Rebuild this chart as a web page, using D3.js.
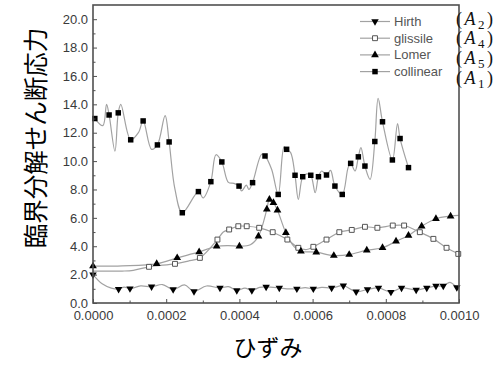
<!DOCTYPE html>
<html>
<head>
<meta charset="utf-8">
<script src="https://cdn.jsdelivr.net/npm/d3@7/dist/d3.min.js"></script>
<style>
  html, body { margin: 0; padding: 0; background: #fff; }
  svg { display: block; }
</style>
</head>
<body>
<svg id="chart" width="496" height="365"></svg>
<script>
// Critical resolved shear stress vs. strain for four junction types.
// Each point: [strain, stress, marker drawn (1) or curve-only point (0)]
const hirth = [
  [0.000000, 2.00, 1], [0.000025, 1.35, 0], [0.000050, 1.05, 0], [0.000070, 0.98, 1],
  [0.000085, 1.12, 0], [0.000101, 1.02, 1], [0.000130, 1.20, 0], [0.000160, 1.15, 1],
  [0.000190, 1.30, 0], [0.000219, 0.95, 1], [0.000250, 1.28, 0], [0.000276, 0.82, 1],
  [0.000310, 1.20, 0], [0.000347, 1.06, 1], [0.000370, 1.15, 0], [0.000393, 0.88, 1],
  [0.000415, 1.05, 0], [0.000434, 0.88, 1], [0.000455, 1.10, 0], [0.000473, 1.13, 1],
  [0.000509, 1.06, 1], [0.000530, 1.00, 0], [0.000557, 1.00, 1], [0.000580, 1.08, 0],
  [0.000602, 1.00, 1], [0.000625, 1.10, 0], [0.000652, 1.06, 1], [0.000684, 1.22, 1],
  [0.000719, 0.80, 1], [0.000750, 0.96, 1], [0.000780, 1.06, 1], [0.000814, 0.77, 1],
  [0.000843, 1.06, 1], [0.000883, 0.92, 1], [0.000912, 1.06, 1], [0.000937, 1.20, 1],
  [0.000957, 1.20, 1], [0.000975, 1.46, 0], [0.000994, 1.10, 1], [0.001000, 1.00, 0]
];

const glissile = [
  [0.000000, 2.25, 0], [0.000080, 2.25, 0], [0.000110, 2.30, 0], [0.000153, 2.55, 1],
  [0.000224, 2.76, 1], [0.000260, 2.95, 0], [0.000292, 3.18, 1], [0.000340, 4.47, 1],
  [0.000356, 5.00, 0], [0.000372, 5.18, 1], [0.000397, 5.41, 1], [0.000420, 5.41, 1],
  [0.000454, 5.30, 1], [0.000491, 4.99, 1], [0.000531, 4.47, 1], [0.000561, 3.89, 1],
  [0.000584, 3.77, 0], [0.000602, 3.96, 1], [0.000638, 4.47, 1], [0.000673, 4.99, 1],
  [0.000707, 5.15, 1], [0.000743, 5.37, 1], [0.000777, 5.30, 1], [0.000819, 5.46, 1],
  [0.000850, 5.46, 1], [0.000893, 4.99, 1], [0.000930, 4.52, 1], [0.000966, 3.89, 1],
  [0.000998, 3.46, 1]
];

const lomer = [
  [0.000000, 2.60, 1], [0.000080, 2.62, 0], [0.000174, 2.76, 1], [0.000230, 3.18, 1],
  [0.000290, 3.60, 1], [0.000338, 4.00, 1], [0.000370, 4.05, 0], [0.000400, 4.00, 1],
  [0.000430, 4.10, 0], [0.000452, 4.71, 1], [0.000475, 6.60, 1], [0.000482, 7.30, 1],
  [0.000493, 7.07, 1], [0.000504, 6.54, 1], [0.000527, 4.95, 1], [0.000550, 3.95, 0],
  [0.000568, 3.65, 1], [0.000610, 3.58, 1], [0.000658, 3.34, 1], [0.000700, 3.41, 1],
  [0.000748, 3.72, 1], [0.000791, 3.89, 1], [0.000828, 4.35, 1], [0.000862, 4.76, 1],
  [0.000898, 5.41, 1], [0.000937, 5.94, 1], [0.000977, 6.12, 1], [0.001000, 6.17, 0]
];

const collinear = [
  [0.000005, 13.00, 1], [0.000027, 12.50, 0], [0.000037, 14.00, 0], [0.000044, 13.25, 1],
  [0.000060, 10.70, 0], [0.000069, 13.40, 1], [0.000076, 14.00, 0], [0.000103, 11.50, 1],
  [0.000124, 12.00, 0], [0.000137, 12.83, 1], [0.000160, 10.83, 0], [0.000176, 11.14, 1],
  [0.000197, 13.20, 0], [0.000208, 11.35, 1], [0.000224, 8.00, 0], [0.000244, 6.36, 1],
  [0.000288, 7.85, 1], [0.000301, 7.40, 0], [0.000322, 8.55, 1], [0.000336, 10.45, 0],
  [0.000352, 9.94, 1], [0.000370, 8.50, 0], [0.000385, 8.43, 0], [0.000399, 8.24, 1],
  [0.000406, 7.90, 0], [0.000419, 8.30, 0], [0.000426, 8.00, 0], [0.000436, 8.48, 1],
  [0.000461, 10.48, 0], [0.000470, 10.36, 1], [0.000488, 9.42, 0], [0.000506, 7.65, 1],
  [0.000522, 11.00, 0], [0.000529, 10.83, 1], [0.000540, 10.60, 0], [0.000552, 9.00, 1],
  [0.000561, 7.30, 0], [0.000573, 8.90, 1], [0.000584, 9.10, 0], [0.000595, 9.00, 1],
  [0.000607, 7.77, 0], [0.000616, 8.90, 1], [0.000625, 9.30, 0], [0.000638, 9.02, 1],
  [0.000649, 9.35, 0], [0.000661, 8.24, 1], [0.000681, 7.65, 1], [0.000697, 9.54, 0],
  [0.000704, 9.84, 1], [0.000716, 9.30, 0], [0.000725, 10.30, 1], [0.000732, 10.95, 0],
  [0.000743, 9.65, 1], [0.000757, 8.71, 0], [0.000770, 11.38, 1], [0.000779, 14.42, 0],
  [0.000791, 12.77, 1], [0.000818, 10.08, 1], [0.000832, 12.65, 0], [0.000839, 11.59, 1],
  [0.000862, 9.54, 1]
];

const seriesNames = ["Hirth", "glissile", "Lomer", "collinear"];
const seriesTags = ["2", "4", "5", "1"];   // junction subscripts A_n
const xTicks = [0, 0.0002, 0.0004, 0.0006, 0.0008, 0.0010];
const yTicks = [0, 2, 4, 6, 8, 10, 12, 14, 16, 18, 20];
const xTitle = "ひずみ";
const yTitle = "臨界分解せん断応力";

const seriesData = [hirth, glissile, lomer, collinear];

const svg = d3.select("#chart");
const W = 496, H = 365;
const m = { left: 93, right: 459, top: 5, bottom: 303 };

svg.append("rect").attr("width", W).attr("height", H).attr("fill", "#fff");

const x = d3.scaleLinear().domain([0, 0.001]).range([m.left, m.right]);
const y = d3.scaleLinear().domain([0, 21]).range([m.bottom, m.top]);

const lineColor = "#a2a2a2";
const axisColor = "#505050";
const labelFont = "'Liberation Sans', Arial, sans-serif";

// marker styles per series
const symbols = [
  { type: d3.symbolTriangle, size: 24, rotate: 180, fill: "#000", stroke: "none" },
  { type: d3.symbolSquare, size: 24, rotate: 0, fill: "#fff", stroke: "#555" },
  { type: d3.symbolTriangle, size: 26, rotate: 0, fill: "#000", stroke: "none" },
  { type: d3.symbolSquare, size: 30, rotate: 0, fill: "#000", stroke: "none" }
];

const plot = svg.append("g");

const line = d3.line()
  .x(d => x(d[0]))
  .y(d => y(d[1]))
  .curve(d3.curveCatmullRom.alpha(0.5));

seriesData.forEach((data, i) => {
  plot.append("path")
    .datum(data)
    .attr("d", line)
    .attr("fill", "none")
    .attr("stroke", lineColor)
    .attr("stroke-width", 1.2);
});

seriesData.forEach((data, i) => {
  const s = symbols[i];
  const sym = d3.symbol().type(s.type).size(s.size);
  plot.selectAll(null)
    .data(data.filter(d => d[2] === 1))
    .join("path")
    .attr("d", sym)
    .attr("transform", d => `translate(${x(d[0])},${y(d[1])}) rotate(${s.rotate})`)
    .attr("fill", s.fill)
    .attr("stroke", s.stroke)
    .attr("stroke-width", 1);
});

// axes: ticks point inward, labels outside
const xAxis = d3.axisBottom(x)
  .tickValues(xTicks)
  .tickFormat(d3.format(".4f"))
  .tickSizeInner(-4).tickSizeOuter(0).tickPadding(8);
const xMinor = d3.axisBottom(x)
  .tickValues(d3.range(1, 10, 2).map(v => v * 0.0001))
  .tickFormat("")
  .tickSizeInner(-2.5).tickSizeOuter(0);
const yAxis = d3.axisLeft(y)
  .tickValues(yTicks)
  .tickFormat(d3.format(".1f"))
  .tickSizeInner(-4).tickSizeOuter(0).tickPadding(5);
const yMinor = d3.axisLeft(y)
  .tickValues(d3.range(1, 21, 2))
  .tickFormat("")
  .tickSizeInner(-2.5).tickSizeOuter(0);

function styleAxis(g) {
  g.select(".domain").remove();
  g.selectAll("line").attr("stroke", axisColor).attr("stroke-width", 1);
  g.selectAll("text")
    .attr("fill", "#3a3a3a")
    .style("font-family", labelFont)
    .style("font-size", "13px");
}

svg.append("g").attr("transform", `translate(0,${m.bottom})`).call(xAxis).call(styleAxis);
svg.append("g").attr("transform", `translate(0,${m.bottom})`).call(xMinor).call(styleAxis);
svg.append("g").attr("transform", `translate(${m.left},0)`).call(yAxis).call(styleAxis);
svg.append("g").attr("transform", `translate(${m.left},0)`).call(yMinor).call(styleAxis);

// frame
svg.append("rect")
  .attr("x", m.left).attr("y", m.top)
  .attr("width", m.right - m.left).attr("height", m.bottom - m.top)
  .attr("fill", "none").attr("stroke", axisColor).attr("stroke-width", 1.6);

// legend
const legend = svg.append("g");
seriesNames.forEach((name, i) => {
  const ly = 21.5 + i * 16.7;
  legend.append("line")
    .attr("x1", 360).attr("x2", 390).attr("y1", ly).attr("y2", ly)
    .attr("stroke", lineColor).attr("stroke-width", 1.2);
  const s = symbols[i];
  legend.append("path")
    .attr("d", d3.symbol().type(s.type).size(s.size)())
    .attr("transform", `translate(375,${ly}) rotate(${s.rotate})`)
    .attr("fill", s.fill).attr("stroke", s.stroke).attr("stroke-width", 1);
  legend.append("text")
    .attr("x", 394).attr("y", ly).attr("dy", "0.35em")
    .attr("fill", "#555")
    .style("font-family", labelFont)
    .style("font-size", "13px")
    .text(name);
});

// junction labels (A_n)
const tagY = [19, 38.5, 58.5, 78.5];
seriesTags.forEach((t, i) => {
  const tx = svg.append("text")
    .attr("x", 456).attr("y", tagY[i]).attr("dy", "0.32em")
    .attr("fill", "#111")
    .style("font-family", "'Liberation Serif', 'Times New Roman', serif")
    .style("font-size", "18px");
  tx.append("tspan").text("(");
  tx.append("tspan").style("font-style", "italic").text("A");
  tx.append("tspan").attr("dy", "4").style("font-size", "13px").text(t);
  tx.append("tspan").attr("dy", "-4").text(")");
  tx.attr("textLength", 37).attr("lengthAdjust", "spacing");
});

// axis titles
svg.append("text")
  .attr("x", 268).attr("y", 348).attr("dy", "0.35em")
  .attr("text-anchor", "middle")
  .attr("fill", "#000")
  .style("font-family", "'Noto Sans CJK JP', sans-serif")
  .style("font-size", "23px")
  .text(xTitle);

svg.append("text")
  .attr("transform", "translate(36,138) rotate(-90)")
  .attr("dy", "0.35em")
  .attr("text-anchor", "middle")
  .attr("fill", "#000")
  .style("font-family", "'Noto Sans CJK JP', sans-serif")
  .style("font-size", "24.5px")
  .text(yTitle);
</script>
</body>
</html>
